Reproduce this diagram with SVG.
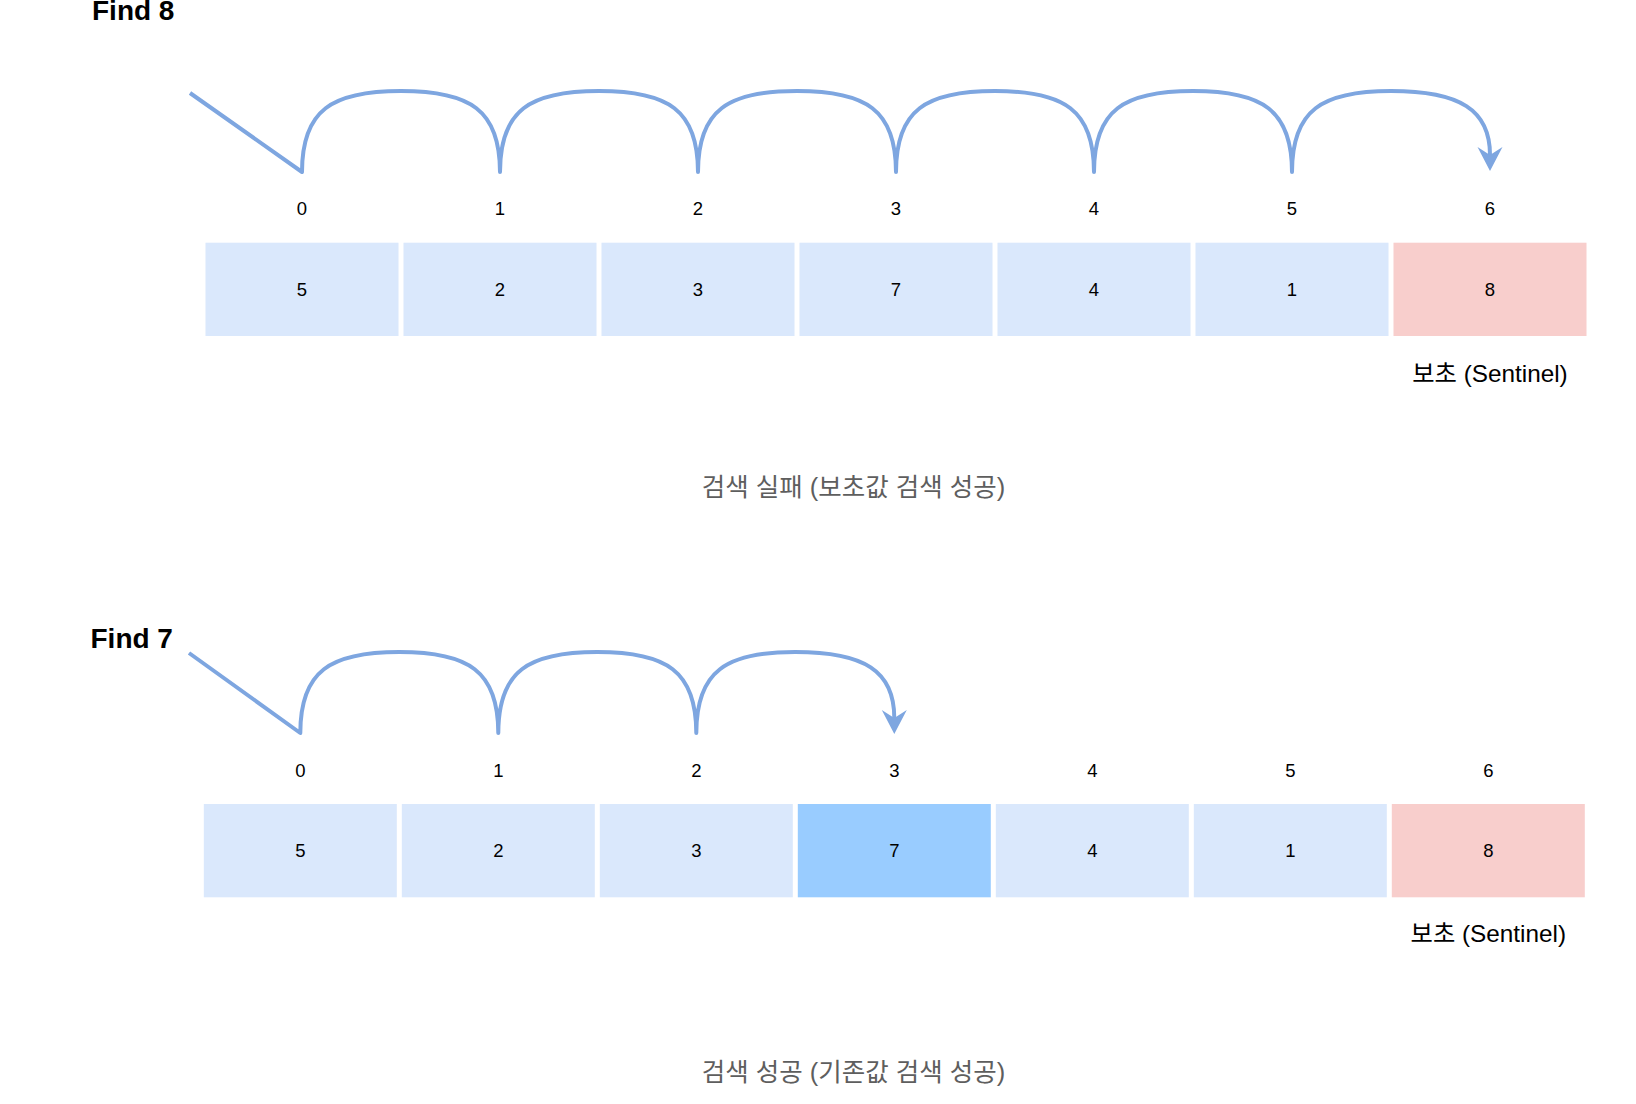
<svg xmlns="http://www.w3.org/2000/svg" width="1636" height="1104" viewBox="0 0 1636 1104">
<style>
.cell{fill:#dae8fc}
.sent{fill:#f8cecc}
.hit{fill:#99ccff}
.num{font-family:"Liberation Sans",Arial,sans-serif;font-size:18.5px;fill:#000;text-anchor:middle}
.title{font-family:"Liberation Sans",Arial,sans-serif;font-size:28px;font-weight:bold;fill:#000}
.note{font-family:"Liberation Sans","Noto Sans CJK KR",sans-serif;font-size:24.3px;fill:#000;text-anchor:middle}
.cap{font-family:"Liberation Sans","Noto Sans CJK KR",sans-serif;font-size:25.5px;fill:#5e5e5e;text-anchor:middle}
.edge{fill:none;stroke:#7ea6e0;stroke-width:4;stroke-linejoin:round}
</style>
<defs>
<marker id="arr" markerUnits="userSpaceOnUse" viewBox="-9 -14 26 28" refX="0" refY="0" markerWidth="26" markerHeight="28" orient="auto">
<path d="M16,0 L-8,-12.5 L0,0 L-8,12.5 Z" fill="#7ea6e0"/>
</marker>
</defs>

<text class="title" x="92" y="20">Find 8</text>
<text class="title" x="90.5" y="647.5">Find 7</text>

<g id="connectors">
<path class="edge" marker-end="url(#arr)" d="M190,93 L302,172
C302,110 332,91 401,91 C470,91 500,110 500,172
C500,110 530,91 599,91 C668,91 698,110 698,172
C698,110 728,91 797,91 C866,91 896,110 896,172
C896,110 926,91 995,91 C1064,91 1094,110 1094,172
C1094,110 1124,91 1193,91 C1262,91 1292,110 1292,172
C1292,110 1322,91 1391,91 C1460,91 1490,110 1490,155"/>
<path class="edge" marker-end="url(#arr)" d="M189,653 L300.3,733
C300.3,671 330.3,652 399.3,652 C468.3,652 498.3,671 498.3,733
C498.3,671 528.3,652 597.3,652 C666.3,652 696.3,671 696.3,733
C696.3,671 726.3,652 795.3,652 C864.3,652 894.3,671 894.3,718"/>
</g>

<g id="row1">
<g id="r1c0"><rect class="cell" x="205.5" y="242.7" width="193" height="93.3"/><text class="num" x="302" y="296">5</text><text class="num" x="302" y="214.5">0</text></g>
<g id="r1c1"><rect class="cell" x="403.5" y="242.7" width="193" height="93.3"/><text class="num" x="500" y="296">2</text><text class="num" x="500" y="214.5">1</text></g>
<g id="r1c2"><rect class="cell" x="601.5" y="242.7" width="193" height="93.3"/><text class="num" x="698" y="296">3</text><text class="num" x="698" y="214.5">2</text></g>
<g id="r1c3"><rect class="cell" x="799.5" y="242.7" width="193" height="93.3"/><text class="num" x="896" y="296">7</text><text class="num" x="896" y="214.5">3</text></g>
<g id="r1c4"><rect class="cell" x="997.5" y="242.7" width="193" height="93.3"/><text class="num" x="1094" y="296">4</text><text class="num" x="1094" y="214.5">4</text></g>
<g id="r1c5"><rect class="cell" x="1195.5" y="242.7" width="193" height="93.3"/><text class="num" x="1292" y="296">1</text><text class="num" x="1292" y="214.5">5</text></g>
<g id="r1c6"><rect class="sent" x="1393.5" y="242.7" width="193" height="93.3"/><text class="num" x="1490" y="296">8</text><text class="num" x="1490" y="214.5">6</text></g>
<text class="note" x="1490" y="381.5">보초 (Sentinel)</text>
<text class="cap" x="853.5" y="496">검색 실패 (보초값 검색 성공)</text>
</g>

<g id="row2">
<g id="r2c0"><rect class="cell" x="203.8" y="804" width="193" height="93.3"/><text class="num" x="300.3" y="857">5</text><text class="num" x="300.3" y="776.5">0</text></g>
<g id="r2c1"><rect class="cell" x="401.8" y="804" width="193" height="93.3"/><text class="num" x="498.3" y="857">2</text><text class="num" x="498.3" y="776.5">1</text></g>
<g id="r2c2"><rect class="cell" x="599.8" y="804" width="193" height="93.3"/><text class="num" x="696.3" y="857">3</text><text class="num" x="696.3" y="776.5">2</text></g>
<g id="r2c3"><rect class="hit" x="797.8" y="804" width="193" height="93.3"/><text class="num" x="894.3" y="857">7</text><text class="num" x="894.3" y="776.5">3</text></g>
<g id="r2c4"><rect class="cell" x="995.8" y="804" width="193" height="93.3"/><text class="num" x="1092.3" y="857">4</text><text class="num" x="1092.3" y="776.5">4</text></g>
<g id="r2c5"><rect class="cell" x="1193.8" y="804" width="193" height="93.3"/><text class="num" x="1290.3" y="857">1</text><text class="num" x="1290.3" y="776.5">5</text></g>
<g id="r2c6"><rect class="sent" x="1391.8" y="804" width="193" height="93.3"/><text class="num" x="1488.3" y="857">8</text><text class="num" x="1488.3" y="776.5">6</text></g>
<text class="note" x="1488.3" y="941.5">보초 (Sentinel)</text>
<text class="cap" x="853.5" y="1081">검색 성공 (기존값 검색 성공)</text>
</g>
</svg>
